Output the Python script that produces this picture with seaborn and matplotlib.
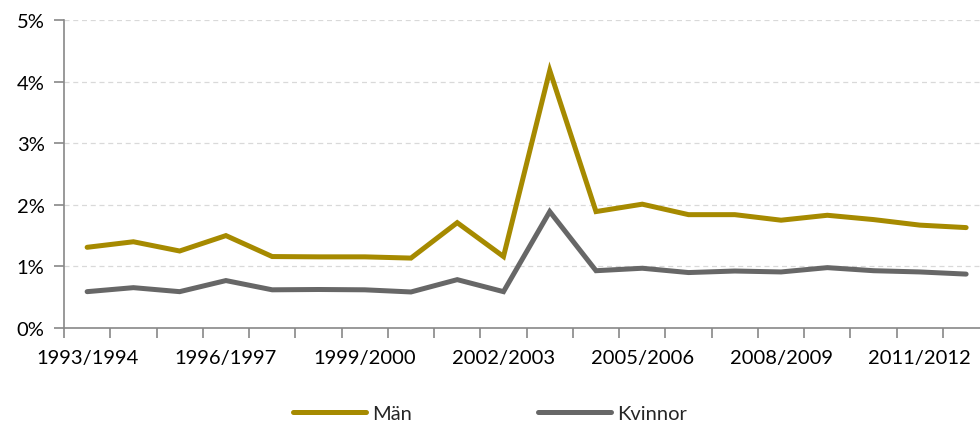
import matplotlib
matplotlib.use("Agg")
import matplotlib.pyplot as plt
import matplotlib.ticker as mticker
import seaborn as sns
import pandas as pd
import numpy as np
from matplotlib.lines import Line2D

seasons = ["1993/1994", "1994/1995", "1995/1996", "1996/1997", "1997/1998",
           "1998/1999", "1999/2000", "2000/2001", "2001/2002", "2002/2003",
           "2003/2004", "2004/2005", "2005/2006", "2006/2007", "2007/2008",
           "2008/2009", "2009/2010", "2010/2011", "2011/2012", "2012/2013"]
man = [1.31, 1.40, 1.25, 1.50, 1.16, 1.155, 1.155, 1.135, 1.71, 1.16,
       4.18, 1.89, 2.01, 1.84, 1.84, 1.75, 1.83, 1.76, 1.67, 1.63]
kvinnor = [0.59, 0.655, 0.59, 0.77, 0.62, 0.625, 0.62, 0.585, 0.785, 0.59,
           1.89, 0.93, 0.97, 0.90, 0.925, 0.91, 0.98, 0.93, 0.91, 0.875]
series_names = ["Män", "Kvinnor"]
colors = ["#A68A00", "#676767"]

df = pd.DataFrame({
    "x": list(range(len(seasons))) * 2,
    "value": [v / 100 for v in man] + [v / 100 for v in kvinnor],
    "serie": [series_names[0]] * len(seasons) + [series_names[1]] * len(seasons),
})

sns.set_theme(style="white")
plt.rcParams['font.family'] = ['Lato', 'DejaVu Sans']

fs = 14.5
lw = 3.6
fig = plt.figure(figsize=(9.8, 4.27), dpi=100)
ax = fig.add_axes([64 / 980, 1 - 329 / 427, 1 - 64 / 980, (329 - 21) / 427])

sns.lineplot(data=df, x="x", y="value", hue="serie", palette=colors,
             hue_order=series_names, linewidth=lw, ax=ax, legend=False,
             solid_capstyle="round", solid_joinstyle="miter")

ax.yaxis.set_major_locator(mticker.MultipleLocator(0.01))
ax.yaxis.set_major_formatter(mticker.PercentFormatter(1.0, decimals=0))
ax.yaxis.grid(True, linestyle=(0, (4, 3)), color="#D9D9D9", linewidth=0.9)
ax.set_axisbelow(True)

ax.set_xticks(range(0, len(seasons), 3))
ax.set_xticklabels(seasons[::3])
ax.set_xticks(np.arange(-0.5, len(seasons) + 0.5, 1), minor=True)
ax.set_ylim(0, 0.05)
ax.set_xlim(-0.5, 19.3)
ax.tick_params(axis="x", which="major", length=0, pad=15, labelsize=fs, colors="#000000")
ax.tick_params(axis="x", which="minor", length=7, width=1.2, color="#888888", bottom=True, direction="out")
ax.tick_params(axis="y", which="major", length=7, width=1.2, color="#888888", left=True,
               direction="out", labelsize=fs, pad=7)
for lbl in ax.get_xticklabels() + ax.get_yticklabels():
    lbl.set_color("#000000")

for s in ["top", "right"]:
    ax.spines[s].set_visible(False)
for s in ["left", "bottom"]:
    ax.spines[s].set_color("#888888")
    ax.spines[s].set_linewidth(1.2)
ax.set_xlabel("")
ax.set_ylabel("")

handles = [Line2D([0], [0], color=c, linewidth=lw, solid_capstyle="round") for c in colors]
fig.legend(handles, series_names, loc="center", bbox_to_anchor=(0.5, 1 - 414 / 427),
           ncol=2, frameon=False, fontsize=fs, handlelength=3.6, handletextpad=0.3,
           columnspacing=6.3)

fig.savefig("out.png", dpi=100, facecolor="white")
